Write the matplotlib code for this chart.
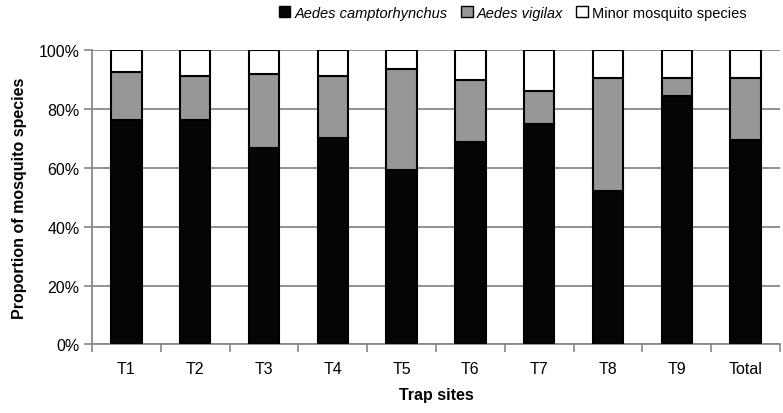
import numpy as np
import matplotlib.pyplot as plt
from matplotlib.patches import Patch
from matplotlib.ticker import PercentFormatter

plt.rcParams['font.family'] = ['Liberation Sans', 'DejaVu Sans']

sites = ['T1', 'T2', 'T3', 'T4', 'T5', 'T6', 'T7', 'T8', 'T9', 'Total']
camptorhynchus = [76.2, 76.2, 66.8, 70.0, 59.2, 68.6, 74.9, 52.0, 84.4, 69.4]
vigilax = [16.2, 14.8, 24.9, 21.0, 34.3, 21.2, 11.2, 38.5, 6.0, 21.0]
minor = [100 - a - b for a, b in zip(camptorhynchus, vigilax)]

fig = plt.figure(figsize=(7.83, 4.14), dpi=100)
ax = fig.add_axes([0.1175, 0.1655, 0.8787, 0.7115])

x = np.arange(len(sites))
w = 0.44
kw = dict(width=w, edgecolor='black', linewidth=1.5, zorder=3)
ax.bar(x, camptorhynchus, color='#050505', **kw)
ax.bar(x, vigilax, bottom=camptorhynchus, color='#979797', **kw)
ax.bar(x, minor, bottom=np.add(camptorhynchus, vigilax), color='white', **kw)

ax.set_xlim(-0.5, len(sites) - 0.5)
ax.set_ylim(0, 100)
ax.set_yticks(np.arange(0, 101, 20))
ax.yaxis.set_major_formatter(PercentFormatter(decimals=0))
ax.set_xticks(x)
ax.set_xticklabels(sites)
ax.set_xticks(np.arange(-0.5, len(sites)), minor=True)
ax.tick_params(axis='x', which='major', length=0, pad=12, labelsize=11.5)
ax.tick_params(axis='x', which='minor', length=6, color='#888888', width=1.2)
ax.tick_params(axis='y', length=6, color='#888888', width=1.2, labelsize=11.5, pad=3)

ax.grid(axis='y', color='#888888', linewidth=1.3, zorder=0)
for s in ['top', 'right']:
    ax.spines[s].set_visible(False)
for s in ['left', 'bottom']:
    ax.spines[s].set_color('#888888')
    ax.spines[s].set_linewidth(1.3)

ax.set_xlabel('Trap sites', fontweight='bold', fontsize=11.5, labelpad=8)
ax.set_ylabel('Proportion of mosquito species', fontweight='bold', fontsize=11.5, labelpad=8)

handles = [Patch(facecolor='#050505', edgecolor='black'),
           Patch(facecolor='#979797', edgecolor='black'),
           Patch(facecolor='white', edgecolor='black')]
labels = ['Aedes camptorhynchus', 'Aedes vigilax', 'Minor mosquito species']
leg = fig.legend(handles, labels, loc='upper center', bbox_to_anchor=(0.655, 1.015), ncol=3,
                 frameon=False, fontsize=10.5, handlelength=0.8, handleheight=0.8,
                 handletextpad=0.3, columnspacing=0.9)
for t in leg.get_texts()[:2]:
    t.set_style('italic')

fig.savefig('out.png', dpi=100)
